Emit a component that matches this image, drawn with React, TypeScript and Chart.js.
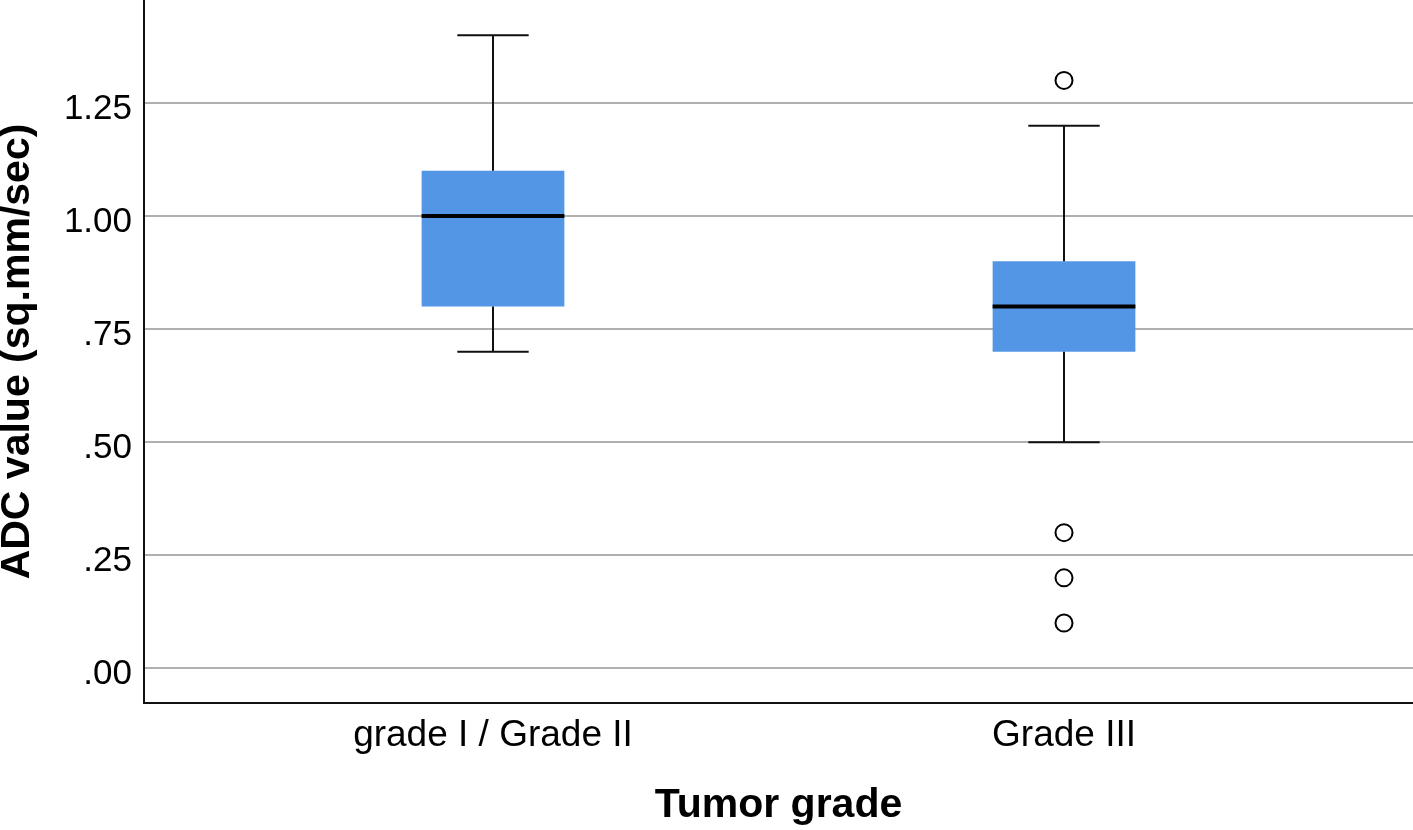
import React, { useEffect, useRef } from 'react';
import { Chart, registerables } from 'chart.js';

Chart.register(...registerables);

// ---- data ----
const categories = ['grade I / Grade II', 'Grade III'];
const q1 = [0.8, 0.7];
const median = [1.0, 0.8];
const q3 = [1.1, 0.9];
const whiskerLow = [0.7, 0.5];
const whiskerHigh = [1.4, 1.2];
const outliers: number[][] = [[], [1.3, 0.3, 0.2, 0.1]];
const yTicks = [0, 0.25, 0.5, 0.75, 1.0, 1.25];
const yTickLabels = ['.00', '.25', '.50', '.75', '1.00', '1.25'];

// ---- styling constants ----
const BOX_HALF = 0.125; // in category units
const CAP_HALF = 0.0625;
const FONT = "'Liberation Sans', Arial, Helvetica, sans-serif";
const BOX_COLOR = '#5396E5';

export default function App() {
  const ref = useRef<HTMLCanvasElement | null>(null);

  useEffect(() => {
    if (!ref.current) return;
    const pos = (i: number) => i + 1;

    const boxData = categories.map((_, i) => ({ x: pos(i), y: [q1[i], q3[i]] }));

    const medianData: any[] = [];
    categories.forEach((_, i) => {
      medianData.push({ x: pos(i) - BOX_HALF, y: median[i] });
      medianData.push({ x: pos(i) + BOX_HALF, y: median[i] });
      medianData.push({ x: pos(i), y: null });
    });

    const whiskerData: any[] = [];
    categories.forEach((_, i) => {
      const x = pos(i);
      whiskerData.push({ x, y: q3[i] }, { x, y: whiskerHigh[i] }, { x, y: null });
      whiskerData.push({ x: x - CAP_HALF, y: whiskerHigh[i] }, { x: x + CAP_HALF, y: whiskerHigh[i] }, { x, y: null });
      whiskerData.push({ x, y: q1[i] }, { x, y: whiskerLow[i] }, { x, y: null });
      whiskerData.push({ x: x - CAP_HALF, y: whiskerLow[i] }, { x: x + CAP_HALF, y: whiskerLow[i] }, { x, y: null });
    });

    const outlierData: any[] = [];
    outliers.forEach((arr, i) => arr.forEach((v) => outlierData.push({ x: pos(i), y: v })));

    const chart = new Chart(ref.current, {
      type: 'bar',
      data: {
        datasets: [
          {
            type: 'bar',
            data: boxData as any,
            backgroundColor: BOX_COLOR,
            borderWidth: 0,
            barPercentage: 0.25,
            categoryPercentage: 1,
            grouped: false,
            order: 3,
          } as any,
          {
            type: 'line',
            data: whiskerData,
            borderColor: '#111',
            borderWidth: 2,
            pointRadius: 0,
            spanGaps: false,
            fill: false,
            tension: 0,
            order: 2,
          } as any,
          {
            type: 'line',
            data: medianData,
            borderColor: '#000',
            borderWidth: 4,
            pointRadius: 0,
            spanGaps: false,
            fill: false,
            tension: 0,
            order: 1,
          } as any,
          {
            type: 'scatter',
            data: outlierData,
            pointRadius: 8.5,
            pointBorderWidth: 2,
            pointBorderColor: '#000',
            pointBackgroundColor: '#fff',
            showLine: false,
            order: 0,
          } as any,
        ],
      },
      options: {
        animation: false,
        responsive: false,
        devicePixelRatio: 1,
        events: [],
        layout: { padding: 0, autoPadding: false },
        plugins: { legend: { display: false }, tooltip: { enabled: false } },
        scales: {
          x: {
            type: 'linear',
            offset: false,
            min: 0.3888,
            max: 2.6112,
            afterBuildTicks: (scale: any) => {
              scale.ticks = categories.map((_, i) => ({ value: i + 1 }));
            },
            afterFit: (scale: any) => {
              scale.height = 127;
              scale.paddingLeft = 0;
              scale.paddingRight = 0;
            },
            grid: { display: false, drawTicks: false, offset: false },
            border: { display: true, color: '#111', width: 2 },
            ticks: {
              autoSkip: false,
              maxRotation: 0,
              padding: 11,
              color: '#000',
              font: { family: FONT, size: 37 },
              callback: (_v: any, i: number) => categories[i],
            },
            title: {
              display: true,
              text: 'Tumor grade',
              color: '#000',
              font: { family: FONT, size: 41, weight: 'bold', lineHeight: 1.2 },
              padding: { top: 0, bottom: 0 },
            },
          },
          y: {
            type: 'linear',
            min: -0.0767,
            max: 1.4778,
            afterBuildTicks: (scale: any) => {
              scale.ticks = yTicks.map((v) => ({ value: v }));
            },
            afterFit: (scale: any) => {
              scale.width = 144;
              scale.paddingTop = 0;
              scale.paddingBottom = 0;
            },
            grid: { color: '#b0b0b0', lineWidth: 2, drawTicks: false },
            border: { display: true, color: '#111', width: 2 },
            ticks: {
              padding: 12,
              labelOffset: 6.5,
              color: '#000',
              font: { family: FONT, size: 35 },
              callback: (_v: any, i: number) => yTickLabels[i],
            },
            title: {
              display: true,
              text: 'ADC value (sq.mm/sec)',
              color: '#000',
              font: { family: FONT, size: 41, weight: 'bold', lineHeight: 0.85 },
              padding: { top: 0, bottom: 0 },
            },
          },
        },
      } as any,
    });

    return () => chart.destroy();
  }, []);

  return (
    <div style={{ position: 'absolute', left: 0, top: 0, width: 1413, height: 830, background: '#fff' }}>
      <canvas ref={ref} width={1413} height={830} style={{ display: 'block', width: 1413, height: 830 }} />
    </div>
  );
}
